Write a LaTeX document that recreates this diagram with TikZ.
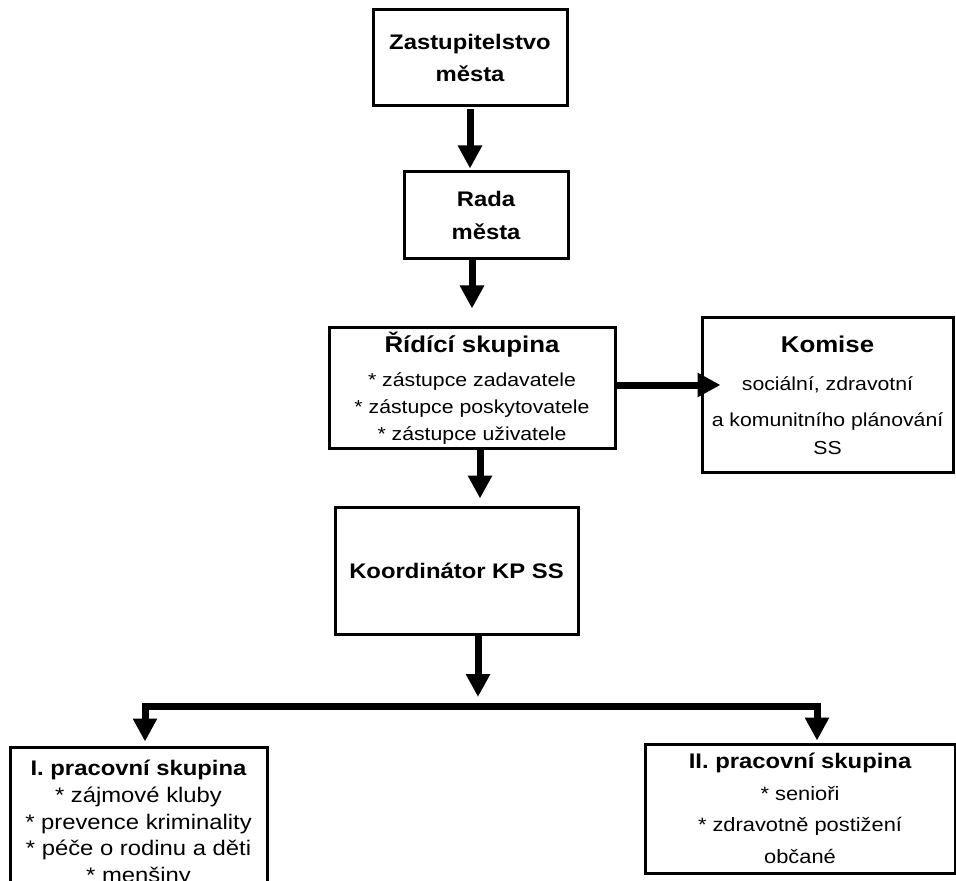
\documentclass[tikz,border=0pt]{standalone}
\usepackage{fontspec}
\setmainfont{Liberation Sans}[FakeStretch=1.13]
\usetikzlibrary{arrows.meta}

\begin{document}
\begin{tikzpicture}[
    box/.style={draw, line width=0.06cm, align=center, inner sep=0pt},
    bigarrow/.style={-{Triangle[length=0.46cm,width=0.46cm]}, line width=0.14cm},
  ]
  \useasboundingbox (0,0) rectangle (19.12,-17.62);
  \draw
    (9.40,-1.16) node[box, minimum width=3.88cm, minimum height=1.92cm,
      font=\bfseries\fontsize{12}{18}\selectfont] (zast) {Zastupitelstvo\\města}
    (9.72,-4.31) node[box, minimum width=3.28cm, minimum height=1.74cm,
      font=\bfseries\fontsize{12}{19}\selectfont] (rada) {Rada\\města}
    (9.44,-7.76) node[box, minimum width=5.72cm, minimum height=2.40cm,
      font=\fontsize{10.7}{15.3}\selectfont] (ridici)
      {{\bfseries\fontsize{13}{15.3}\selectfont Řídící skupina}\\[4pt]* zástupce zadavatele\\
       * zástupce poskytovatele\\* zástupce uživatele}
    (16.55,-7.90) node[box, minimum width=5.02cm, minimum height=3.08cm,
      font=\fontsize{10.7}{16}\selectfont] (komise)
      {{\bfseries\fontsize{13}{16}\selectfont Komise}\\[6pt]sociální, zdravotní\\[4pt]
       a komunitního plánování\\SS}
    (9.13,-11.41) node[box, minimum width=4.86cm, minimum height=2.54cm,
      font=\bfseries\fontsize{12}{15}\selectfont] (koord) {Koordinátor KP SS}
    (2.77,-16.47) node[box, minimum width=5.14cm, minimum height=3.06cm,
      font=\fontsize{12}{15.3}\selectfont] (grp1)
      {{\bfseries I. pracovní skupina}\\* zájmové kluby\\* prevence kriminality\\
       * péče o rodinu a děti\\* menšiny}
    (16.00,-16.17) node[box, minimum width=6.20cm, minimum height=2.58cm,
      font=\fontsize{11}{18}\selectfont] (grp2)
      {{\bfseries\fontsize{12}{18}\selectfont II. pracovní skupina}\\* senioři\\
       * zdravotně postižení\\občané};
  \coordinate (bus) at (9.56,-14.12);
  \coordinate (busL) at (2.90,-14.12);
  \coordinate (busR) at (16.34,-14.12);
  \begin{scope}[bigarrow]
    \draw[shorten <=0.04cm, shorten >=0.04cm] (zast.south) -- (zast.south |- rada.north);
    \draw[shorten >=0.36cm] (ridici.north |- rada.south) -- (ridici.north);
    \draw[shorten >=0.14cm] ([xshift=0.16cm]ridici.south) -- ([xshift=0.16cm]ridici.south |- koord.north);
    \draw[shorten >=0.18cm] (bus |- koord.south) -- (bus);
    \draw[shorten <=-0.06cm, shorten >=-0.40cm] ([yshift=0.06cm]ridici.east) -- ([yshift=0.06cm]ridici.east -| komise.west);
    \draw[{Triangle[length=0.46cm,width=0.46cm]}-{Triangle[length=0.46cm,width=0.46cm]},
      shorten <=0.08cm, shorten >=0.04cm] (busL |- grp1.north) -- (busL) -- (busR) -- (busR |- grp2.north);
  \end{scope}
\end{tikzpicture}
\end{document}
